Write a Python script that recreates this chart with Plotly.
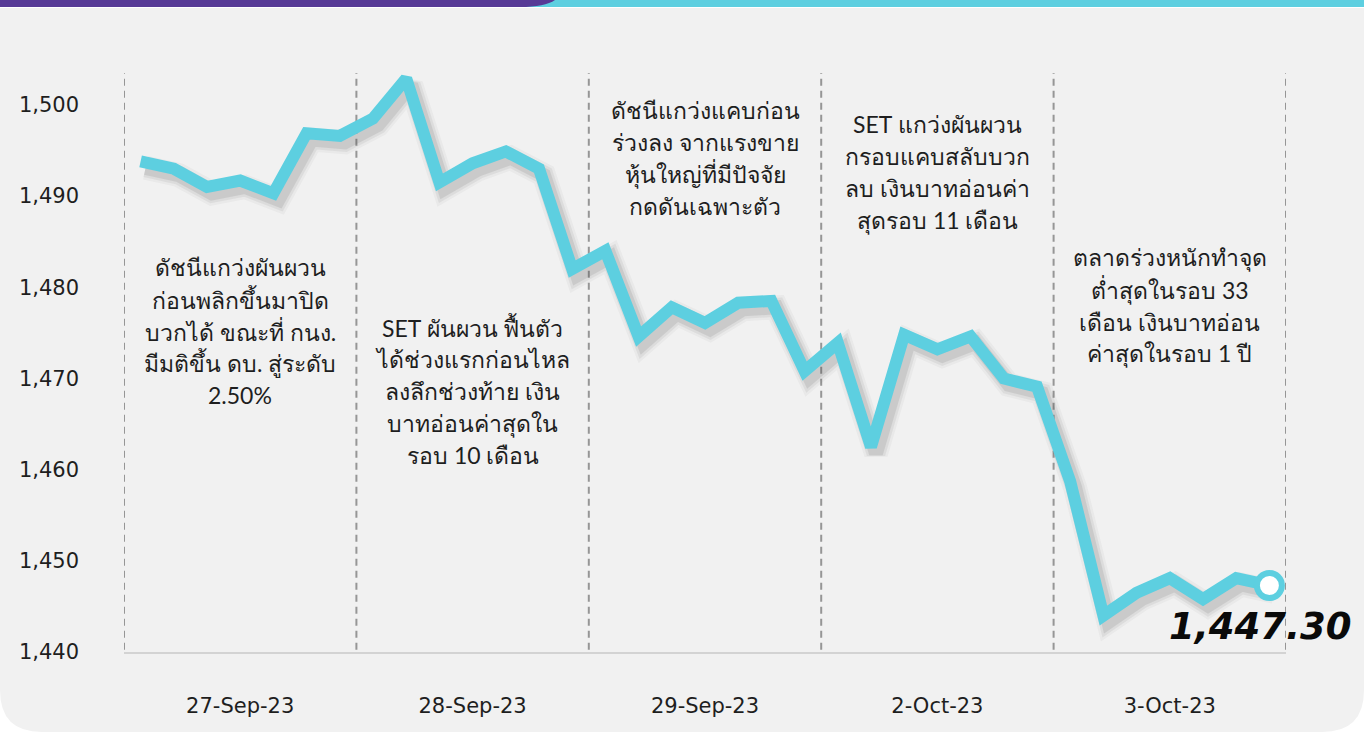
import plotly.graph_objects as go

# ---------------- data ----------------
days = ["27-Sep-23", "28-Sep-23", "29-Sep-23", "2-Oct-23", "3-Oct-23"]
day1 = [1493.8, 1493.0, 1491.0, 1491.7, 1490.3, 1496.9, 1496.6]
day2 = [1498.5, 1502.9, 1491.5, 1493.6, 1494.9, 1493.0, 1482.0]
day3 = [1484.0, 1474.6, 1477.8, 1476.1, 1478.3, 1478.5, 1470.8]
day4 = [1473.9, 1462.5, 1474.8, 1473.2, 1474.6, 1470.0, 1469.1]
day5 = [1458.7, 1444.0, 1446.5, 1448.1, 1445.8, 1448.1, 1447.3]
last_label = "1,447.30"
y_ticks = [1440, 1450, 1460, 1470, 1480, 1490, 1500]
notes = [
    ["ดัชนีแกว่งผันผวน", "ก่อนพลิกขึ้นมาปิด", "บวกได้ ขณะที่ กนง.", "มีมติขึ้น ดบ. สู่ระดับ", "2.50%"],
    ["SET ผันผวน ฟื้นตัว", "ได้ช่วงแรกก่อนไหล", "ลงลึกช่วงท้าย เงิน", "บาทอ่อนค่าสุดใน", "รอบ 10 เดือน"],
    ["ดัชนีแกว่งแคบก่อน", "ร่วงลง จากแรงขาย", "หุ้นใหญ่ที่มีปัจจัย", "กดดันเฉพาะตัว"],
    ["SET แกว่งผันผวน", "กรอบแคบสลับบวก", "ลบ เงินบาทอ่อนค่า", "สุดรอบ 11 เดือน"],
    ["ตลาดร่วงหนักทำจุด", "ต่ำสุดในรอบ 33", "เดือน เงินบาทอ่อน", "ค่าสุดในรอบ 1 ปี"],
]
note_y = [1475.2, 1468.6, 1494.2, 1492.6, 1478.0]  # vertical centre of each note block

# ---------------- derived ----------------
series = [day1, day2, day3, day4, day5]
values = [v for d in series for v in d]
n_per = len(day1)
xs = list(range(len(values)))
centers = [i * n_per + (n_per - 1) / 2 for i in range(len(days))]
bounds = [i * n_per - 0.5 for i in range(len(days) + 1)]

W, H = 1364, 732
ML, MR, MT, MB = 124, 78, 73, 80
PW, PH = W - ML - MR, H - MT - MB

def px(x):
    return (x - ML) / PW

def py(y):
    return (H - MB - y) / PH

CYAN = "#5dcfe0"
PURPLE = "#573a96"
TXT = "#1e1e1e"
LAT = "'DejaVu Sans', sans-serif"
THAI = "Lato, 'Noto Sans', sans-serif"

fig = go.Figure()

# soft drop shadow of the line
for w, op in [(24, 0.04), (19, 0.07), (14, 0.11)]:
    fig.add_trace(go.Scatter(
        x=[x + 0.15 for x in xs], y=[v - 0.7 for v in values], mode="lines",
        line=dict(color=f"rgba(60,60,60,{op})", width=w, shape="linear"),
        hoverinfo="skip", showlegend=False))

fig.add_trace(go.Scatter(x=xs, y=values, mode="lines",
                         line=dict(color=CYAN, width=12), showlegend=False,
                         hoverinfo="skip"))
fig.add_trace(go.Scatter(x=[xs[-1]], y=[values[-1]], mode="markers",
                         marker=dict(size=25, color="white", line=dict(color=CYAN, width=6)),
                         showlegend=False, hoverinfo="skip", cliponaxis=False))

# notes
LS = 32
for c, lines, yc in zip(centers, notes, note_y):
    n = len(lines)
    for i, t in enumerate(lines):
        fig.add_annotation(x=c, y=yc, xref="x", yref="y", text=t, showarrow=False,
                           yshift=((n - 1) / 2 - i) * LS,
                           font=dict(size=23, color=TXT, family=THAI),
                           xanchor="center", yanchor="middle")

fig.add_annotation(x=xs[-1], y=values[-1], text=f"<b><i>{last_label}</i></b>",
                   showarrow=False, xshift=-9, yshift=-41,
                   font=dict(size=37, color="#0a0a0a", family=LAT),
                   xanchor="center", yanchor="middle")

# background card and top bar
r = 42
card = (f"M {px(0)},{py(8)} L {px(W)},{py(8)} L {px(W)},{py(H - r)} "
        f"Q {px(W)},{py(H)} {px(W - r)},{py(H)} L {px(r)},{py(H)} "
        f"Q {px(0)},{py(H)} {px(0)},{py(H - r)} Z")
shapes = [
    dict(type="path", path=card, xref="paper", yref="paper", fillcolor="#f1f1f1",
         line=dict(width=0), layer="below"),
    dict(type="rect", x0=px(0), x1=px(W), y0=py(7), y1=py(0), xref="paper", yref="paper",
         fillcolor=CYAN, line=dict(width=0), layer="below"),
    dict(type="path", xref="paper", yref="paper",
         path=(f"M {px(0)},{py(0)} L {px(555)},{py(0)} Q {px(545)},{py(7)} {px(520)},{py(7)} "
               f"L {px(0)},{py(7)} Z"),
         fillcolor=PURPLE, line=dict(width=0), layer="below"),
]
# dashed day separators
for b in bounds:
    shapes.append(dict(type="line", xref="x", yref="paper", x0=b, x1=b, y0=0.004, y1=1,
                       line=dict(color="#969696", width=2, dash="7px,5px"), layer="below"))

fig.update_layout(
    width=W, height=H,
    margin=dict(l=ML, r=MR, t=MT, b=MB, pad=0),
    paper_bgcolor="white", plot_bgcolor="rgba(0,0,0,0)",
    shapes=shapes, showlegend=False,
    xaxis=dict(range=[bounds[0], bounds[-1]], tickmode="array", tickvals=centers,
               ticktext=days, showgrid=False, zeroline=False,
               showline=True, linecolor="#d3d3d3", linewidth=2,
               ticks="", ticklabelstandoff=34,
               tickfont=dict(size=21, color=TXT, family=LAT)),
    yaxis=dict(range=[1440, 1503.5], tickmode="array", tickvals=y_ticks,
               tickformat=",d", showgrid=False, zeroline=False, showline=False,
               ticks="", ticklabelstandoff=44,
               tickfont=dict(size=21, color=TXT, family=LAT)),
)

fig.write_html("out.html", config={"displayModeBar": False},
               post_script="document.body.style.margin='0';document.body.style.overflow='hidden';")
